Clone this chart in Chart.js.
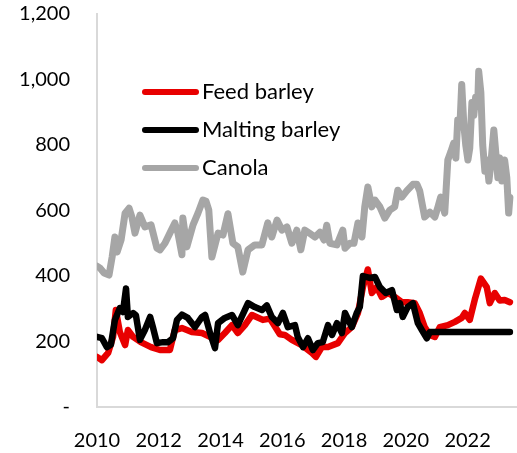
<!DOCTYPE html>
<html>
<head>
<meta charset="utf-8">
<style>
  html, body { margin: 0; padding: 0; background: #ffffff; }
  #wrap { width: 517px; height: 453px; }
</style>
<script src="https://cdn.jsdelivr.net/npm/chart.js@4/dist/chart.umd.min.js"></script>
</head>
<body>
<div id="wrap"><canvas id="c" width="517" height="453"></canvas></div>
<script>
// ---- Data ----
const seriesNames = ['Feed barley', 'Malting barley', 'Canola'];

const feedYears = [2010.00,2010.16,2010.36,2010.52,2010.61,2010.74,2010.91,2011.00,2011.17,2011.42,2011.75,2012.04,2012.36,2012.52,2012.75,2013.07,2013.40,2013.66,2013.92,2014.14,2014.37,2014.56,2014.79,2015.02,2015.37,2015.60,2015.92,2016.08,2016.31,2016.63,2016.96,2017.09,2017.28,2017.48,2017.80,2018.03,2018.25,2018.45,2018.61,2018.77,2018.90,2019.06,2019.22,2019.42,2019.64,2019.87,2020.06,2020.29,2020.45,2020.61,2020.78,2020.94,2021.10,2021.36,2021.59,2021.81,2021.91,2022.07,2022.23,2022.43,2022.62,2022.72,2022.88,2023.04,2023.20,2023.37];
const feedValues = [153,143,165,214,296,229,189,235,214,198,183,174,174,235,241,229,226,214,205,226,250,226,250,281,266,270,222,220,205,189,165,153,183,183,195,226,244,287,366,420,348,366,336,348,336,320,320,317,287,244,220,214,244,250,260,272,287,266,327,392,366,317,348,325,327,320];

const maltYears = [2010.00,2010.16,2010.32,2010.45,2010.58,2010.74,2010.84,2010.94,2011.00,2011.17,2011.26,2011.39,2011.55,2011.72,2011.81,2011.94,2012.14,2012.30,2012.46,2012.59,2012.75,2012.94,2013.17,2013.40,2013.50,2013.66,2013.82,2013.92,2014.14,2014.37,2014.56,2014.89,2015.11,2015.34,2015.50,2015.66,2015.86,2016.02,2016.18,2016.41,2016.50,2016.67,2016.83,2016.99,2017.15,2017.31,2017.48,2017.61,2017.77,2017.93,2018.03,2018.25,2018.41,2018.51,2018.61,2018.83,2019.00,2019.16,2019.35,2019.55,2019.71,2019.81,2019.90,2020.06,2020.23,2020.39,2020.52,2020.68,2020.78,2021.50,2022.50,2023.37];
const maltValues = [214,210,183,190,266,302,290,362,275,287,280,205,235,275,244,195,198,198,210,266,282,272,244,275,281,226,180,256,272,281,250,317,305,296,310,275,256,287,244,250,214,183,210,174,195,198,250,220,256,226,287,244,287,305,400,394,397,366,348,357,296,317,275,305,317,256,235,210,229,229,229,229];

const canolaYears = [2010.00,2010.10,2010.23,2010.39,2010.49,2010.58,2010.65,2010.78,2010.91,2011.04,2011.13,2011.23,2011.39,2011.55,2011.75,2011.94,2012.04,2012.20,2012.36,2012.52,2012.62,2012.75,2012.78,2012.91,2013.11,2013.27,2013.43,2013.53,2013.62,2013.72,2013.92,2014.08,2014.24,2014.40,2014.56,2014.72,2014.89,2015.11,2015.34,2015.53,2015.66,2015.83,2015.99,2016.15,2016.31,2016.47,2016.60,2016.73,2016.89,2017.06,2017.22,2017.35,2017.44,2017.54,2017.77,2017.96,2018.03,2018.19,2018.32,2018.45,2018.58,2018.67,2018.77,2018.90,2019.00,2019.16,2019.32,2019.48,2019.64,2019.74,2019.87,2020.03,2020.23,2020.36,2020.45,2020.61,2020.78,2020.94,2021.04,2021.13,2021.26,2021.36,2021.46,2021.55,2021.62,2021.68,2021.75,2021.81,2021.88,2021.94,2022.01,2022.07,2022.14,2022.20,2022.26,2022.33,2022.36,2022.43,2022.49,2022.56,2022.62,2022.69,2022.75,2022.85,2022.91,2022.98,2023.04,2023.11,2023.20,2023.27,2023.33,2023.37];
const canolaValues = [430,424,409,403,458,519,473,510,592,607,580,531,586,550,556,485,480,500,531,562,531,465,577,489,556,592,632,628,601,458,531,525,590,500,489,412,480,495,495,562,519,571,540,550,500,540,480,540,530,519,534,510,555,500,495,540,485,500,500,562,519,611,672,611,632,611,577,601,611,662,641,660,680,680,660,580,595,580,611,641,592,754,780,806,760,876,855,985,860,800,754,790,930,890,946,930,1025,960,800,720,754,690,740,846,780,700,760,690,754,700,592,640];

const xTickValues = [2010, 2012, 2014, 2016, 2018, 2020, 2022];
const xTickLabels = ['2010', '2012', '2014', '2016', '2018', '2020', '2022'];
const yTickValues = [0, 200, 400, 600, 800, 1000, 1200];
const yTickLabels = ['-', '200', '400', '600', '800', '1,000', '1,200'];

// ---- Build chart ----
function toPoints(xs, ys) { return xs.map((x, i) => ({ x: x, y: ys[i] })); }

const colors = ['#E80000', '#000000', '#A6A6A6'];
const FONT = 'Lato';

const legendPlugin = {
  id: 'insideLegend',
  afterDraw(chart) {
    const ctx = chart.ctx;
    ctx.save();
    const rows = [92, 130, 168];
    chart.data.datasets.forEach((ds, i) => {
      const y = rows[i];
      ctx.strokeStyle = ds.borderColor;
      ctx.lineWidth = 6;
      ctx.lineCap = 'round';
      ctx.beginPath();
      ctx.moveTo(145, y);
      ctx.lineTo(196, y);
      ctx.stroke();
      ctx.fillStyle = '#000000';
      ctx.font = '22px ' + FONT;
      ctx.textAlign = 'left';
      ctx.textBaseline = 'middle';
      ctx.fillText(ds.label, 202, y);
    });
    ctx.restore();
  }
};

const datasets = [
  { label: seriesNames[0], data: toPoints(feedYears, feedValues), borderColor: colors[0], order: 1, borderWidth: 6.5 },
  { label: seriesNames[1], data: toPoints(maltYears, maltValues), borderColor: colors[1], order: 0, borderWidth: 6.5 },
  { label: seriesNames[2], data: toPoints(canolaYears, canolaValues), borderColor: colors[2], order: 2, borderWidth: 7 }
].map(d => Object.assign(d, {
  pointRadius: 0, tension: 0, fill: false,
  borderJoinStyle: 'round', borderCapStyle: 'round'
}));

new Chart(document.getElementById('c'), {
  type: 'line',
  data: { datasets: datasets },
  options: {
    responsive: false,
    animation: false,
    layout: { padding: { top: 14, right: 0, bottom: 0, left: 0 } },
    plugins: { legend: { display: false }, tooltip: { enabled: false } },
    scales: {
      x: {
        type: 'linear',
        min: 2010, max: 2023.6,
        grid: { display: false, drawTicks: false },
        border: { display: true, color: '#D9D9D9', width: 2 },
        afterBuildTicks: (s) => { s.ticks = xTickValues.map(v => ({ value: v })); },
        afterFit: (s) => { s.height = 46; s.paddingLeft = 0; s.paddingRight = 0; },
        ticks: {
          padding: 22,
          color: '#000000',
          font: { family: FONT, size: 20 },
          maxRotation: 0,
          autoSkip: false,
          callback: (v) => { const i = xTickValues.indexOf(v); return i >= 0 ? xTickLabels[i] : ''; }
        }
      },
      y: {
        min: 0, max: 1200,
        grid: { display: false, drawTicks: false },
        border: { display: true, color: '#D9D9D9', width: 2 },
        afterBuildTicks: (s) => { s.ticks = yTickValues.map(v => ({ value: v })); },
        afterFit: (s) => { s.width = 97; s.paddingTop = 0; s.paddingBottom = 0; },
        ticks: {
          padding: 27,
          color: '#000000',
          font: { family: FONT, size: 20 },
          autoSkip: false,
          callback: (v) => { const i = yTickValues.indexOf(v); return i >= 0 ? yTickLabels[i] : ''; }
        }
      }
    }
  },
  plugins: [legendPlugin]
});
</script>
</body>
</html>
